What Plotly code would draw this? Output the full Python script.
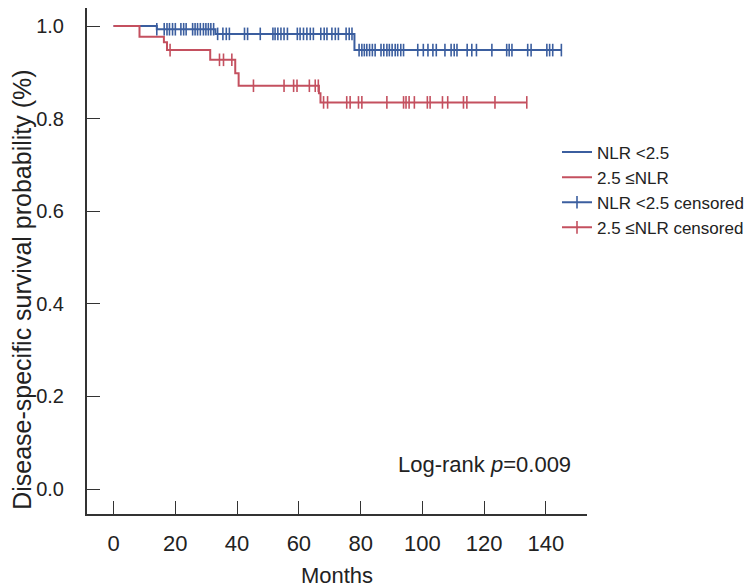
import numpy as np
import plotly.graph_objects as go

# ---- data ----
# Kaplan-Meier step curves (event times in months, survival after the step)
low_times = [0, 14.0, 33.0, 78.0]
low_surv = [1.0, 0.993, 0.983, 0.948]
low_end = 145.0

high_times = [0, 8.4, 16.3, 17.3, 31.3, 39.4, 40.5, 66.5, 67.0]
high_surv = [1.0, 0.977, 0.965, 0.948, 0.927, 0.898, 0.871, 0.855, 0.835]
high_end = 133.8

# censoring times
low_censor = [14.0, 16.4, 17.3, 18.1, 19.1, 20.0, 21.8, 22.7, 23.5, 25.6, 26.4, 27.2, 28.1,
              29.1, 29.9, 30.7, 31.5, 32.4, 33.7, 35.4, 36.5, 37.5, 42.4, 43.4, 47.5, 51.6,
              52.3, 53.2, 54.2, 55.2, 56.3, 59.5, 60.4, 61.5, 62.6, 63.7, 64.7, 67.1, 68.2,
              69.1, 70.7, 71.8, 72.8, 75.3, 76.3, 77.2, 79.5, 80.4, 81.2, 82.0, 82.9, 83.8,
              84.7, 86.6, 87.5, 88.5, 89.3, 90.2, 91.2, 92.0, 93.0, 93.9, 98.5, 100.3, 101.8,
              103.4, 104.5, 107.3, 109.3, 110.3, 111.2, 114.5, 116.0, 117.5, 122.5, 127.3,
              128.1, 129.0, 134.1, 135.2, 140.3, 141.2, 142.2, 145.0]
high_censor = [18.3, 34.3, 35.6, 38.3, 45.3, 55.2, 58.3, 59.4, 63.4, 65.3, 66.3, 68.0, 69.3,
               75.5, 76.6, 79.3, 80.4, 88.5, 93.9, 94.7, 95.7, 97.4, 101.6, 102.5, 106.5,
               108.2, 113.3, 114.4, 123.5, 133.8]

x_ticks = [0, 20, 40, 60, 80, 100, 120, 140]
y_ticks = [0.0, 0.2, 0.4, 0.6, 0.8, 1.0]
y_tick_text = ["0.0", "0.2", "0.4", "0.6", "0.8", "1.0"]

labels = ["NLR <2.5", "2.5 \u2264NLR", "NLR <2.5 censored", "2.5 \u2264NLR censored"]
y_title = "Disease-specific survival probability (%)"
x_title = "Months"
BLUE = "#3b5e9f"
RED = "#c4505f"
FONT = "Liberation Sans, Arial, sans-serif"


def surv_at(times, surv, t):
    idx = np.searchsorted(np.array(times), t, side="right") - 1
    return [surv[i] for i in idx]


def censor_xy(times, surv, cens):
    ys = surv_at(times, surv, cens)
    xs, yy = [], []
    for a, b in zip(cens, ys):
        xs += [a, None]
        yy += [b, None]
    return xs, yy


fig = go.Figure()
fig.add_trace(go.Scatter(x=low_times + [low_end], y=low_surv + [low_surv[-1]],
                         mode="lines", line=dict(color=BLUE, width=2, shape="hv"),
                         name=labels[0]))
fig.add_trace(go.Scatter(x=high_times + [high_end], y=high_surv + [high_surv[-1]],
                         mode="lines", line=dict(color=RED, width=2, shape="hv"),
                         name=labels[1]))
cx, cy = censor_xy(low_times, low_surv, low_censor)
fig.add_trace(go.Scatter(x=cx, y=cy, mode="lines+markers", connectgaps=False,
                         line=dict(color=BLUE, width=2),
                         marker=dict(symbol="line-ns", size=9,
                                     line=dict(color=BLUE, width=1.6)),
                         name=labels[2]))
cx, cy = censor_xy(high_times, high_surv, high_censor)
fig.add_trace(go.Scatter(x=cx, y=cy, mode="lines+markers", connectgaps=False,
                         line=dict(color=RED, width=2),
                         marker=dict(symbol="line-ns", size=9,
                                     line=dict(color=RED, width=1.6)),
                         name=labels[3]))

fig.add_annotation(x=120, y=0.052, xref="x", yref="y",
                   text="Log-rank <i>p</i>=0.009", showarrow=False,
                   font=dict(family=FONT, size=22, color="#222"))
# y-axis title (centred on the whole picture, as in the reference)
fig.add_annotation(x=-0.13, y=0.443, xref="paper", yref="paper", textangle=-90,
                   text=y_title, showarrow=False, xanchor="center", yanchor="middle",
                   font=dict(family=FONT, size=25, color="#222"))

fig.update_layout(
    width=744, height=580,
    margin=dict(l=79, r=165, t=0, b=74, autoexpand=False),
    plot_bgcolor="white", paper_bgcolor="white",
    font=dict(family=FONT, color="#222"),
    showlegend=True,
    legend=dict(x=0.94, y=0.75, xanchor="left", yanchor="top",
                bgcolor="rgba(0,0,0,0)", font=dict(family=FONT, size=17),
                tracegroupgap=0, itemwidth=30),
)
fig.update_xaxes(range=[-8.6, 153.3], tickvals=x_ticks, ticks="inside", ticklen=13,
                 tickwidth=1.3, tickcolor="#333", showline=True, linecolor="#333",
                 linewidth=2, showgrid=False, zeroline=False, automargin=False,
                 tickfont=dict(family=FONT, size=22), ticklabelstandoff=9,
                 title=dict(text=x_title, font=dict(family=FONT, size=22), standoff=18))
fig.update_yaxes(range=[-0.054, 1.0389], tickvals=y_ticks, ticktext=y_tick_text,
                 ticks="inside", ticklen=13, tickwidth=1.3, tickcolor="#333",
                 showline=True, linecolor="#333", linewidth=2, showgrid=False,
                 zeroline=False, automargin=False,
                 tickfont=dict(family=FONT, size=20), ticklabelstandoff=17)

fig.write_html("out.html")
